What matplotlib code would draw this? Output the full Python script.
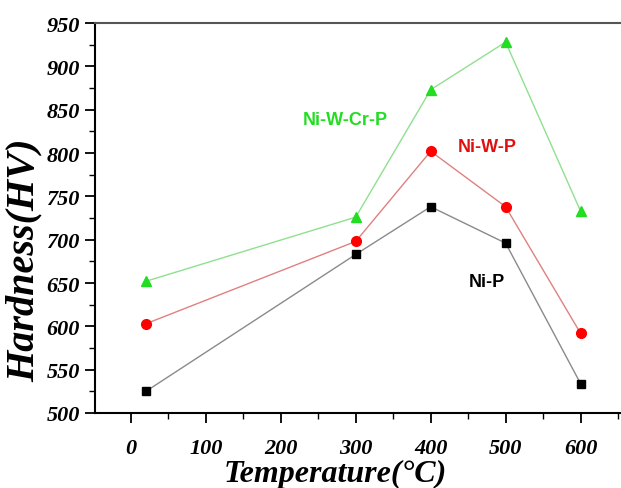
import matplotlib.pyplot as plt
from matplotlib.ticker import MultipleLocator

temps = [20, 300, 400, 500, 600]
ni_p = [525, 683, 738, 696, 534]
ni_w_p = [603, 698, 802, 738, 592]
ni_w_cr_p = [652, 726, 873, 928, 733]

serif = 'Liberation Serif'

fig = plt.figure(figsize=(6.21, 4.89), dpi=100)
ax = fig.add_axes([95 / 621, 75 / 489, 526 / 621, 390 / 489])

ax.plot(temps, ni_p, color='#8a8a8a', lw=1.0, zorder=2)
ax.plot(temps, ni_p, ls='none', marker='s', ms=6, color='black', zorder=3)
ax.plot(temps, ni_w_p, color='#e08080', lw=1.0, zorder=2)
ax.plot(temps, ni_w_p, ls='none', marker='o', ms=7, color='#ff0000', zorder=3)
ax.plot(temps, ni_w_cr_p, color='#90e090', lw=1.0, zorder=2)
ax.plot(temps, ni_w_cr_p, ls='none', marker='^', ms=7, color='#22dd22', zorder=3)

lbl = dict(fontsize=13, fontweight='bold', family='Liberation Sans', ha='center', va='center')
ax.text(286, 839, 'Ni-W-Cr-P', color='#22dd22', **lbl)
ax.text(475, 807, 'Ni-W-P', color='#e01010', **lbl)
ax.text(475, 652, 'Ni-P', color='black', **lbl)

ax.set_xlim(-48, 654)
ax.set_ylim(500, 950)
ax.xaxis.set_major_locator(MultipleLocator(100))
ax.xaxis.set_minor_locator(MultipleLocator(50))
ax.yaxis.set_major_locator(MultipleLocator(50))
ax.yaxis.set_minor_locator(MultipleLocator(25))

ax.tick_params(which='major', direction='out', length=7, width=1.3, pad=4)
ax.tick_params(which='minor', direction='out', length=4, width=1.0)
ax.tick_params(top=False, right=False, which='both')
ax.spines['right'].set_visible(False)
ax.spines['top'].set_color('#555555')
for s in ['left', 'bottom', 'top']:
    ax.spines[s].set_linewidth(1.5)

for lab in ax.get_xticklabels() + ax.get_yticklabels():
    lab.set_family(serif)
    lab.set_fontweight('bold')
    lab.set_fontstyle('italic')
    lab.set_fontsize(16)
ax.tick_params(axis='x', pad=11)

ax.set_xlabel('Temperature(°C)', family=serif, fontweight='bold', fontstyle='italic',
              fontsize=23)
ax.xaxis.set_label_coords((335 - 95) / 526, -(474 - 414) / 390)
ax.xaxis.label.set_va('center')
ax.set_ylabel('Hardness(HV)', family=serif, fontweight='bold', fontstyle='italic',
              fontsize=29)
ax.yaxis.set_label_coords(-(95 - 24) / 526, (414 - 260) / 390)
ax.yaxis.label.set_va('center')

fig.savefig('out.png', dpi=100)
